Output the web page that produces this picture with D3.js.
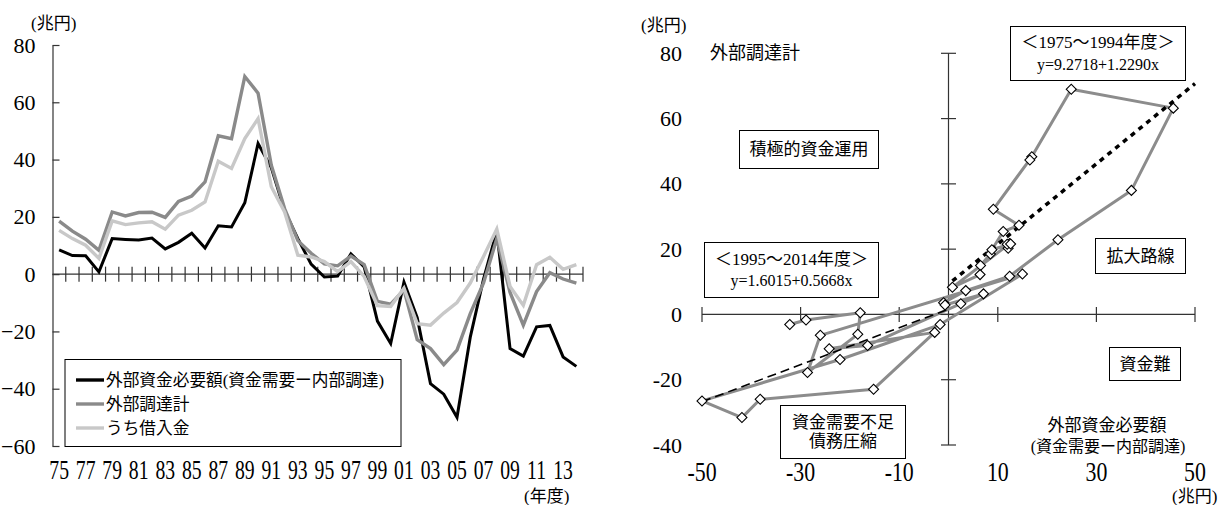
<!DOCTYPE html>
<html><head><meta charset="utf-8">
<script src="https://cdn.jsdelivr.net/npm/d3@7"></script>
<style>
body{margin:0;background:#fff}
svg{display:block}
text{font-family:'Liberation Serif','Noto Sans CJK JP',serif;fill:#000}
</style>
</head><body>
<svg id="c" width="1218" height="505"></svg>
<script>
// ---------- data ----------
const years = d3.range(1975, 2015);
const externalNeed = [8.5,6.5,6.4,0.8,12.4,12.1,11.9,12.6,8.8,11.1,14.3,9.1,16.9,16.5,24.9,45.6,37.1,22.2,12.4,3.5,
  -1.0,-0.7,7.1,2.5,-16.4,-24.2,-2.8,-15.2,-38.2,-41.9,-50.0,-22.0,-1.7,15.0,-26.0,-28.6,-18.4,-17.9,-28.9,-32.2];
const externalTotal = [18.5,15.0,12.2,8.3,21.7,20.3,21.5,21.6,19.8,25.4,27.3,32.2,48.3,47.3,69.0,63.2,38.0,22.9,11.7,7.3,
  3.6,2.9,6.3,3.3,-9.5,-10.5,-5.5,-22.9,-26.0,-31.6,-26.5,-13.8,-3.1,12.4,-6.4,-17.8,-6.1,0.5,-1.7,-3.1];
const borrowing = [15.3,12.4,10.1,5.5,18.6,17.3,17.9,18.3,15.7,20.6,22.3,25.2,39.4,36.9,47.3,54.3,30.5,21.7,6.6,6.0,
  4.4,0.9,4.4,-0.8,-11.0,-11.3,-4.9,-17.3,-17.8,-13.6,-9.9,-3.1,6.2,15.7,-4.3,-10.9,3.3,5.9,1.7,3.3];
const seriesNames = ['外部資金必要額(資金需要ー内部調達)','外部調達計','うち借入金'];
const leftYTicks = [-60,-40,-20,0,20,40,60,80];
const leftXLabelYears = years.filter((y,i)=>i%2===0);
const rightXTicks = [-50,-30,-10,10,30,50];
const rightYTicks = [-40,-20,0,20,40,60,80];
const trendEarly = {from:1975,to:1994,a:9.2718,b:1.2290,title:'＜1975～1994年度＞',eq:'y=9.2718+1.2290x'};
const trendLate  = {from:1995,to:2014,a:1.6015,b:0.5668,title:'＜1995～2014年度＞',eq:'y=1.6015+0.5668x'};

const FONT = "'Liberation Serif','Noto Sans CJK JP',serif";
const svg = d3.select('#c');
const colors = ['#000000','#8a8a8a','#c8c8c8'];

// ---------- left chart ----------
const L = svg.append('g');
const xL = d3.scaleBand().domain(years).range([52.5,583]).padding(0);
const yL = d3.scaleLinear().domain([-60,80]).range([446,45]);
const cx = y => xL(y)+xL.bandwidth()/2;

const yAxisL = d3.axisLeft(yL).tickValues(leftYTicks).tickSizeInner(-7).tickSizeOuter(0).tickPadding(17);
const gyL = L.append('g').attr('transform',`translate(${xL.range()[0]},0)`).call(yAxisL)
  .attr('font-family',null);
gyL.select('.domain').attr('stroke','#333').attr('stroke-width',1.2);
gyL.selectAll('.tick line').attr('stroke','#333').attr('stroke-width',1.2);
gyL.selectAll('.tick text').attr('font-size',22).style('font-family',FONT).attr('fill','#000');

// zero axis with crossing ticks
L.append('line').attr('x1',xL.range()[0]).attr('x2',xL.range()[1]).attr('y1',yL(0)).attr('y2',yL(0))
  .attr('stroke','#333').attr('stroke-width',1.2);
L.selectAll('.xt').data(years).join('line')
  .attr('x1',d=>xL(d)+xL.bandwidth()).attr('x2',d=>xL(d)+xL.bandwidth())
  .attr('y1',yL(0)-7.5).attr('y2',yL(0)+7.5).attr('stroke','#333').attr('stroke-width',1.2);
L.selectAll('.xl').data(leftXLabelYears).join('text')
  .attr('transform',d=>`translate(${cx(d)},479) scale(0.82,1.13)`)
  .attr('text-anchor','middle').attr('font-size',24)
  .text(d=>String(d%100).padStart(2,'0'));

const lineL = d3.line().x((d,i)=>cx(years[i])).y(d=>yL(d));
[externalNeed,externalTotal,borrowing].forEach((s,i)=>{
  L.append('path').datum(s).attr('d',lineL).attr('fill','none')
    .attr('stroke',colors[i]).attr('stroke-width',i===0?3:3.4).attr('stroke-linejoin','miter');
});

// legend
const lg = L.append('g');
lg.append('rect').attr('x',65).attr('y',359.5).attr('width',336).attr('height',87)
  .attr('fill','#fff').attr('stroke','#000').attr('stroke-width',1);
seriesNames.forEach((n,i)=>{
  const yy = 380+i*24;
  lg.append('line').attr('x1',76).attr('x2',104).attr('y1',yy).attr('y2',yy)
    .attr('stroke',colors[i]).attr('stroke-width',3.4);
  lg.append('text').attr('x',106).attr('y',yy).attr('dominant-baseline','central')
    .attr('font-size',16.7).text(n);
});
L.append('text').attr('x',31).attr('y',23).attr('dominant-baseline','central').attr('font-size',17).text('(兆円)');
L.append('text').attr('x',524).attr('y',496).attr('dominant-baseline','central').attr('font-size',17).text('(年度)');

// ---------- right chart ----------
const R = svg.append('g');
const xR = d3.scaleLinear().domain([-50,50]).range([702,1195]);
const yR = d3.scaleLinear().domain([-40,80]).range([445,53.3]);

R.append('line').attr('x1',xR(0)).attr('x2',xR(0)).attr('y1',yR(80)).attr('y2',yR(-40)).attr('stroke','#333').attr('stroke-width',1.2);
R.append('line').attr('x1',xR(-50)).attr('x2',xR(50)).attr('y1',yR(0)).attr('y2',yR(0)).attr('stroke','#333').attr('stroke-width',1.2);
R.selectAll('.ryt').data(rightYTicks).join('line')
  .attr('x1',xR(0)-7.5).attr('x2',xR(0)+7.5).attr('y1',d=>yR(d)).attr('y2',d=>yR(d)).attr('stroke','#333').attr('stroke-width',1.2);
R.selectAll('.rxt').data(rightXTicks).join('line')
  .attr('x1',d=>xR(d)).attr('x2',d=>xR(d)).attr('y1',yR(0)-7.5).attr('y2',yR(0)+7.5).attr('stroke','#333').attr('stroke-width',1.2);
R.selectAll('.ryl').data(rightYTicks).join('text')
  .attr('x',682).attr('y',d=>yR(d)).attr('text-anchor','end').attr('dominant-baseline','central')
  .attr('font-size',22).text(d=>d);
R.selectAll('.rxl').data(rightXTicks).join('text')
  .attr('transform',d=>`translate(${xR(d)},481) scale(0.95,1.2)`).attr('text-anchor','middle')
  .attr('font-size',23).text(d=>d);

const pts = years.map((y,i)=>({year:y,x:externalNeed[i],y:externalTotal[i]}));
R.append('path').datum(pts).attr('d',d3.line().x(d=>xR(d.x)).y(d=>yR(d.y)))
  .attr('fill','none').attr('stroke','#8c8c8c').attr('stroke-width',3).attr('stroke-linejoin','round');

// regression lines
const early = pts.filter(p=>p.year>=trendEarly.from && p.year<=trendEarly.to);
const eMin = d3.min(early,p=>p.x);
R.append('line').attr('x1',xR(eMin)).attr('y1',yR(trendEarly.a+trendEarly.b*eMin))
  .attr('x2',xR(50)).attr('y2',yR(trendEarly.a+trendEarly.b*50))
  .attr('stroke','#000').attr('stroke-width',3.5).attr('stroke-dasharray','5,5');
const late = pts.filter(p=>p.year>=trendLate.from && p.year<=trendLate.to);
const lMin = d3.min(late,p=>p.x);
R.append('line').attr('x1',xR(lMin)).attr('y1',yR(trendLate.a+trendLate.b*lMin))
  .attr('x2',xR(0)).attr('y2',yR(trendLate.a))
  .attr('stroke','#000').attr('stroke-width',1.6).attr('stroke-dasharray','9,5');

R.selectAll('.pt').data(pts).join('path')
  .attr('d',d3.symbol(d3.symbolSquare,50))
  .attr('transform',d=>`translate(${xR(d.x)},${yR(d.y)}) rotate(45)`)
  .attr('fill','#fff').attr('stroke','#000').attr('stroke-width',1.1);

// annotations
function box(x,y,w,h,lines,fs,lh){
  R.append('rect').attr('x',x).attr('y',y).attr('width',w).attr('height',h)
    .attr('fill','#fff').attr('stroke','#000').attr('stroke-width',1);
  lines.forEach((t,i)=>{
    R.append('text').attr('x',x+w/2).attr('y',y+h/2+(i-(lines.length-1)/2)*lh)
      .attr('text-anchor','middle').attr('dominant-baseline','central').attr('font-size',fs[i]||fs[0]).text(t);
  });
}
box(739.5,130.5,139,38,['積極的資金運用'],[17],0);
box(704.5,242.5,174,55,[trendLate.title,trendLate.eq],[17,16],21.6);
box(1010.5,26.5,175,54,[trendEarly.title,trendEarly.eq],[17,16],21.6);
box(1095.5,238.5,90,35,['拡大路線'],[17],0);
box(1109.5,347.5,71,33,['資金難'],[17],0);
box(780.5,405.5,125,53,['資金需要不足','債務圧縮'],[17],18.5);

R.append('text').attr('x',710).attr('y',53).attr('dominant-baseline','central').attr('font-size',18).text('外部調達計');
R.append('text').attr('x',1107).attr('y',425).attr('text-anchor','middle').attr('dominant-baseline','central').attr('font-size',17).text('外部資金必要額');
R.append('text').attr('x',1108).attr('y',446.5).attr('text-anchor','middle').attr('dominant-baseline','central').attr('font-size',16).text('(資金需要ー内部調達)');
R.append('text').attr('x',641).attr('y',25).attr('dominant-baseline','central').attr('font-size',17).text('(兆円)');
R.append('text').attr('x',1172).attr('y',496).attr('dominant-baseline','central').attr('font-size',17).text('(兆円)');
</script>
</body></html>
